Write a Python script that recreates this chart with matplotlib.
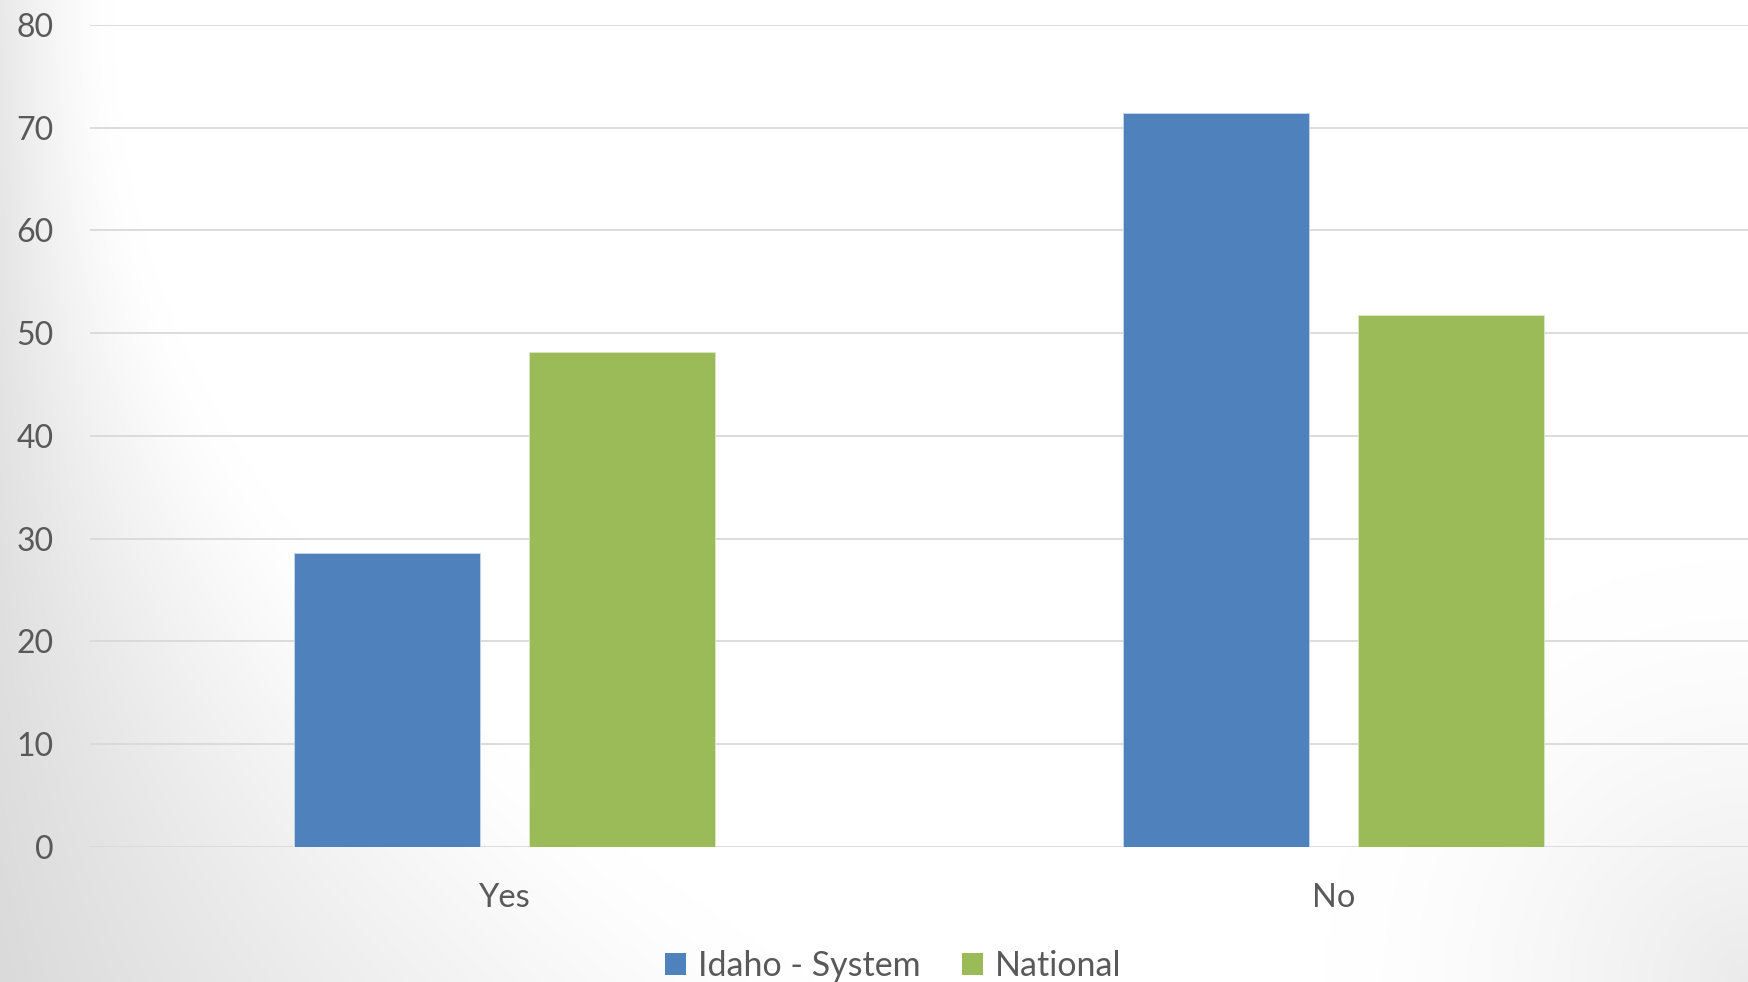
import numpy as np
import matplotlib
matplotlib.use("Agg")
import matplotlib.pyplot as plt
from matplotlib.patches import Patch

categories = ["Yes", "No"]
series_names = ["Idaho - System", "National"]
idaho_values = [28.6, 71.4]
national_values = [48.2, 51.8]
y_ticks = [0, 10, 20, 30, 40, 50, 60, 70, 80]

colors = ["#4F81BD", "#9BBB59"]
text_color = "#595959"
font = "Lato"

W, H, DPI = 1748, 982, 100
fig = plt.figure(figsize=(W / DPI, H / DPI), dpi=DPI)

# background gradient: gray along left edge (darkest bottom-left) and a bit at bottom-right
bg = fig.add_axes([0, 0, 1, 1], zorder=-10)
ny, nx = 250, 440
yu, xn = np.mgrid[0:1:ny * 1j, 0:1:nx * 1j]   # yu: 0 bottom -> 1 top
xp = xn * W
yp = yu * H
w = 110 + 700 * (1 - yu) ** 2.2
gL = np.clip(1 - xp / w, 0, 1) ** 1.4 * (0.085 + 0.06 * (1 - yu))
dbr = np.sqrt((xp - W) ** 2 + (yp - 0) ** 2)
gBR = np.clip(1 - dbr / 420, 0, 1) ** 1.5 * 0.08
val = 1.0 - np.maximum(gL, gBR)
img = np.dstack([val, val, val])
bg.imshow(img, extent=[0, 1, 0, 1], aspect="auto", origin="lower", interpolation="bilinear")
bg.set_xlim(0, 1)
bg.set_ylim(0, 1)
bg.axis("off")

left = 90 / W
right = 1.0
bottom = 1 - 846.7 / H
top = 1 - 25 / H
ax = fig.add_axes([left, bottom, right - left, top - bottom])
ax.patch.set_alpha(0)

x = np.arange(len(categories))
bw = 0.225
off = 0.142
ax.bar(x - off, idaho_values, bw, color=colors[0], zorder=3, edgecolor="#c9d7ea", linewidth=0.6)
ax.bar(x + off, national_values, bw, color=colors[1], zorder=3, edgecolor="#dbe6c6", linewidth=0.6)

ax.set_xlim(-0.5, 1.5)
ax.set_ylim(0, 80)
ax.set_yticks(y_ticks)
ax.set_yticklabels([str(v) for v in y_ticks], fontsize=23, color=text_color, family=font)
ax.set_xticks(x)
ax.set_xticklabels(categories, fontsize=23.5, color=text_color, family=font)
ax.tick_params(axis="both", length=0)
ax.tick_params(axis="y", pad=26)
ax.tick_params(axis="x", pad=26)
ax.yaxis.grid(True, color="#d9d9d9", linewidth=1.3, zorder=0)
ax.set_axisbelow(True)
for s in ax.spines.values():
    s.set_visible(False)

handles = [Patch(facecolor=c, edgecolor="none") for c in colors]
fig.legend(handles, series_names, loc="center", bbox_to_anchor=(0.511, 0.0165),
           ncol=2, frameon=False, prop={"family": font, "size": 24.5},
           labelcolor=text_color, handlelength=0.62, handleheight=0.62,
           handletextpad=0.35, columnspacing=1.2, borderpad=0)

fig.savefig("out.png", dpi=DPI)
